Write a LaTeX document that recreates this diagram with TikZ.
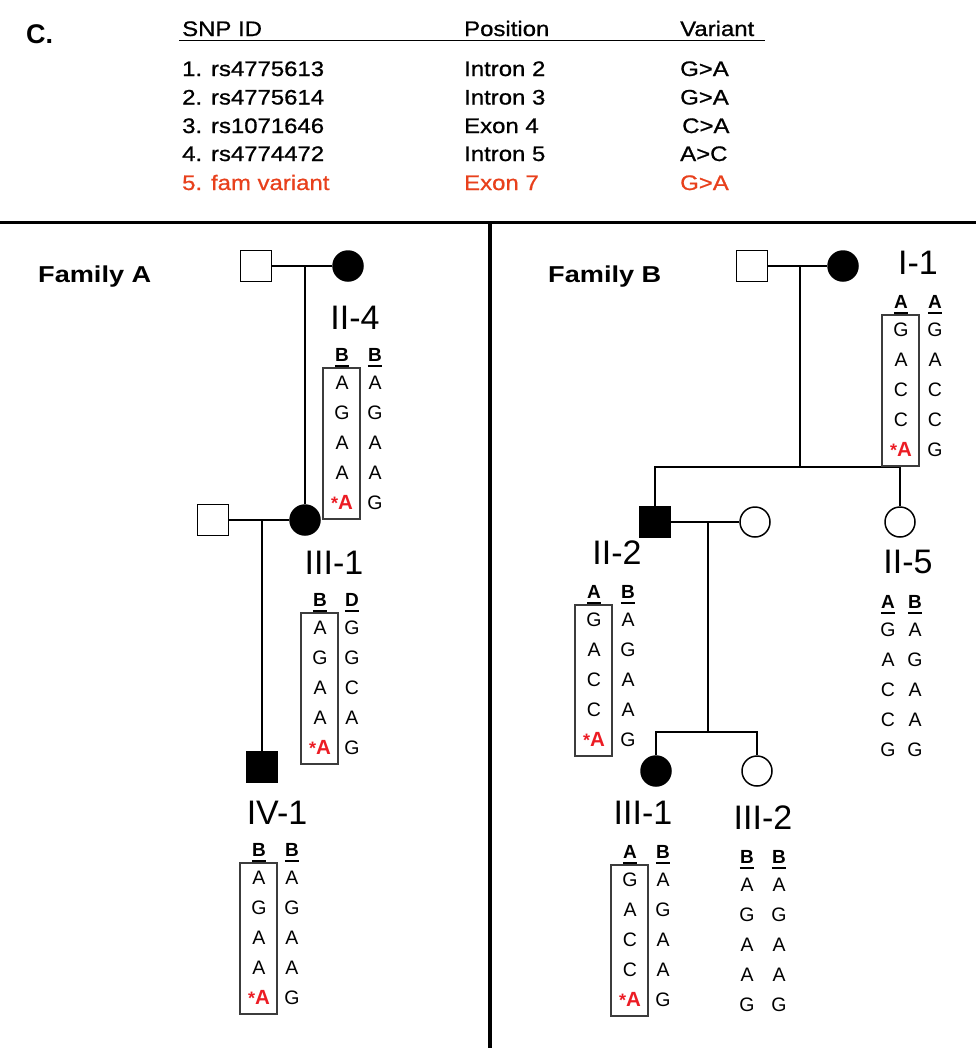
\documentclass[tikz,border=0pt]{standalone}
\usepackage{fontspec}
\setmainfont{Liberation Sans}
\newfontfamily\widefont[FakeStretch=1.14,FakeBold=0.8]{Liberation Sans}
\newfontfamily\widebold[FakeStretch=1.18]{Liberation Sans}
\usetikzlibrary{calc}
\definecolor{tabred}{RGB}{232,64,28}
\definecolor{gred}{RGB}{236,28,36}
\definecolor{boxgray}{RGB}{60,60,60}
\newcommand{\mut}{\textcolor{gred}{\bfseries\fontsize{18}{18}\selectfont*\fontsize{20.5}{20.5}\selectfont A}}
\tikzset{
  tab/.style={anchor=base west,inner sep=0,font=\widefont\fontsize{21}{21}\selectfont},
  fam/.style={anchor=base west,inner sep=0,font=\widebold\bfseries\fontsize{23}{23}\selectfont},
  lab/.style={inner sep=0,text height=24.4pt,text depth=0pt,font=\fontsize{34}{34}\selectfont},
  hdr/.style={inner sep=0,text height=13.6pt,text depth=0pt,font=\bfseries\fontsize{19}{19}\selectfont},
  gl/.style={inner sep=0,text height=13.6pt,text depth=0pt,font=\fontsize{19.5}{19.5}\selectfont},
  uline/.style={line width=2.2pt},
  gbox/.style={draw=boxgray,line width=1.3pt},
  male/.style={draw,line width=1.5pt,minimum size=31pt,inner sep=0,rectangle},
  female/.style={draw,line width=1.5pt,minimum size=30pt,inner sep=0,circle},
  aff/.style={fill=black},
  ped/.style={line width=1.5pt},
}
\newcommand{\gtype}[8]{%
  \node[hdr] (#1h1) at (#2,#4-28) {#5};
  \node[hdr] (#1h2) at (#3,#4-28) {#6};
  \draw[uline] ([yshift=-4pt]#1h1.south west) -- ([yshift=-4pt]#1h1.south east);
  \draw[uline] ([yshift=-4pt]#1h2.south west) -- ([yshift=-4pt]#1h2.south east);
  \foreach \l [count=\i from 0] in {#7} {\node[gl] (#1a\i) at (#2,#4+30*\i) {\l};}
  \foreach \l [count=\i from 0] in {#8} {\node[gl] (#1b\i) at (#3,#4+30*\i) {\l};}
}
\newcommand{\gbox}[2]{\draw[gbox] (#1-19,#2-15) rectangle (#1+18,#2+136);}
\begin{document}
\begin{tikzpicture}[x=1pt,y=-1pt]
\useasboundingbox (0,0) rectangle (976,1050);
\fill[white] (0,0) rectangle (976,1050);
% ---- table
\node[anchor=base west,inner sep=0,font=\bfseries\fontsize{27}{27}\selectfont] (clab) at (26,43) {C.};
\node[tab] (h1) at (182,36) {SNP ID};
\node[tab] (h2) at (464,36) {Position};
\node[tab] (h3) at (680,36) {Variant};
\draw[line width=1.5pt] (179,40.5) -- (765,40.5);
\node[tab] (r1a) at (182,76) {1. rs4775613};
\node[tab] (r1b) at (464,76) {Intron 2};
\node[tab] (r1c) at (680,76) {G>A};
\node[tab] (r2a) at (182,104.5) {2. rs4775614};
\node[tab] (r2b) at (464,104.5) {Intron 3};
\node[tab] (r2c) at (680,104.5) {G>A};
\node[tab] (r3a) at (182,133) {3. rs1071646};
\node[tab] (r3b) at (464,133) {Exon 4};
\node[tab] (r3c) at (682,133) {C>A};
\node[tab] (r4a) at (182,161) {4. rs4774472};
\node[tab] (r4b) at (464,161) {Intron 5};
\node[tab] (r4c) at (680,161) {A>C};
\node[tab,text=tabred] (r5a) at (182,190) {5. fam variant};
\node[tab,text=tabred] (r5b) at (464,190) {Exon 7};
\node[tab,text=tabred] (r5c) at (680,190) {G>A};
% ---- dividers
\draw[line width=3pt] (0,222) -- (976,222);
\draw[line width=3.5pt] (490,222) -- (490,1048);
% ---- Family A
\node[fam] (famA) at (38,282) {Family A};
\node[male] (a1) at (256,266) {};
\node[female,aff] (a2) at (348,266) {};
\node[female,aff] (a3) at (305,520) {};
\node[male] (a4) at (213,520) {};
\node[male,aff] (a5) at (262,767) {};
\coordinate (am1) at (305,266);
\coordinate (am2) at (262,520);
\draw[ped] (a1) -- (a2);
\draw[ped] (am1) -- (a3);
\draw[ped] (a4) -- (a3);
\draw[ped] (am2) -- (a5);
\node[lab] (la3) at (355,317) {II-4};
\node[lab] (la3b) at (334,562) {III-1};
\node[lab] (la5) at (277,812) {IV-1};
\gbox{342}{383}
\gtype{gA}{342}{375}{383}{B}{B}{A,G,A,A,\mut}{A,G,A,A,G}
\gbox{320}{628}
\gtype{gB}{320}{352}{628}{B}{D}{A,G,A,A,\mut}{G,G,C,A,G}
\gbox{259}{878}
\gtype{gC}{259}{292}{878}{B}{B}{A,G,A,A,\mut}{A,G,A,A,G}
% ---- Family B
\node[fam] (famB) at (548,282) {Family B};
\node[male] (b1) at (752,266) {};
\node[female,aff] (b2) at (843,266) {};
\node[male,aff] (b3) at (655,522) {};
\node[female] (b4) at (755,522) {};
\node[female] (b5) at (900,522) {};
\node[female,aff] (b6) at (656,771) {};
\node[female] (b7) at (757,771) {};
\coordinate (bm1) at (800,266);
\coordinate (bd1) at (800,467);
\coordinate (bs1) at (655,467);
\coordinate (bs2) at (900,467);
\coordinate (bm2) at (708,522);
\coordinate (bd2) at (708,732);
\coordinate (bs3) at (656,732);
\coordinate (bs4) at (757,732);
\draw[ped] (b1) -- (b2);
\draw[ped] (bm1) -- (bd1);
\draw[ped] (b3) -- (bs1) -- (bs2) -- (b5);
\draw[ped] (b3) -- (b4);
\draw[ped] (bm2) -- (bd2);
\draw[ped] (b6) -- (bs3) -- (bs4) -- (b7);
\node[lab] (lb2) at (918,262) {I-1};
\node[lab] (lb3) at (617,552) {II-2};
\node[lab] (lb5) at (908,561) {II-5};
\node[lab] (lb6) at (643,812) {III-1};
\node[lab] (lb7) at (763,817) {III-2};
\gbox{901}{330}
\gtype{gD}{901}{935}{330}{A}{A}{G,A,C,C,\mut}{G,A,C,C,G}
\gbox{594}{620}
\gtype{gE}{594}{628}{620}{A}{B}{G,A,C,C,\mut}{A,G,A,A,G}
\gtype{gF}{888}{915}{630}{A}{B}{G,A,C,C,G}{A,G,A,A,G}
\gbox{630}{880}
\gtype{gG}{630}{663}{880}{A}{B}{G,A,C,C,\mut}{A,G,A,A,G}
\gtype{gH}{747}{779}{885}{B}{B}{A,G,A,A,G}{A,G,A,A,G}
\end{tikzpicture}
\end{document}
